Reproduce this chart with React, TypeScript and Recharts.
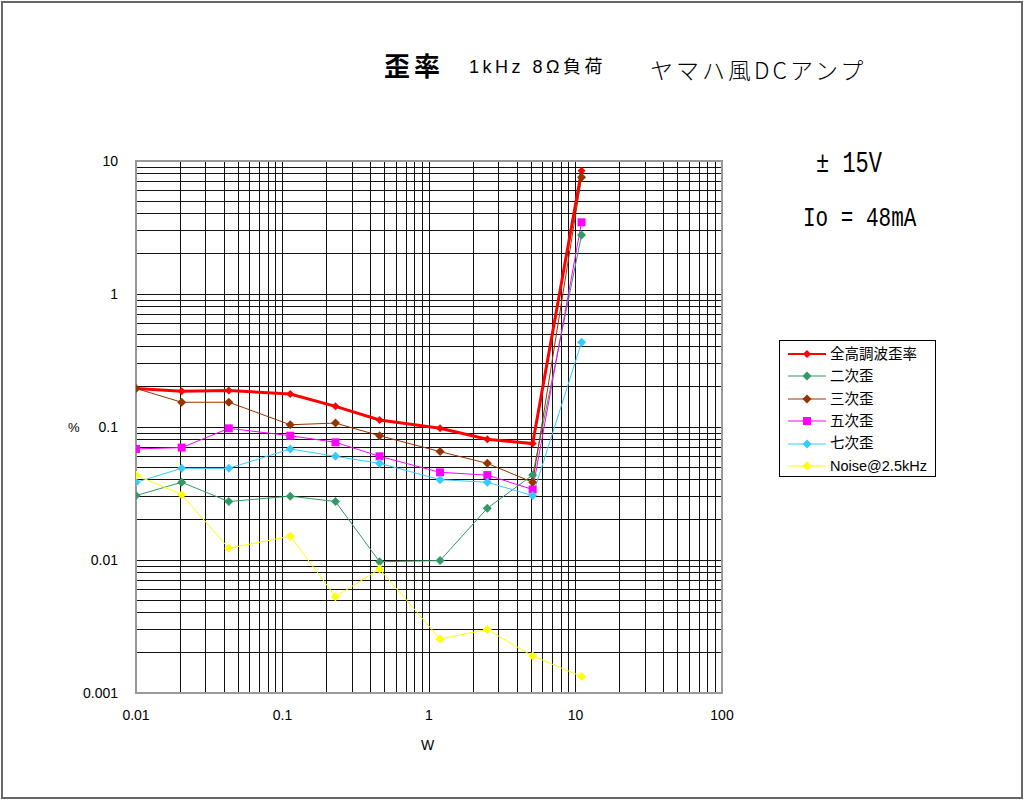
import React from 'react';
import { LineChart, Line, XAxis, YAxis, CartesianGrid, ReferenceArea } from 'recharts';

// 出力 (W)
const powerW = [0.01, 0.0205, 0.043, 0.113, 0.23, 0.46, 1.19, 2.5, 5.1, 11.0];

// 歪率 (%)
const thd = [0.195, 0.186, 0.188, 0.177, 0.143, 0.113, 0.098, 0.081, 0.075, 8.45];
const h2 = [0.0305, 0.0384, 0.0275, 0.0302, 0.0275, 0.0097, 0.0099, 0.0245, 0.0435, 2.78];
const h3 = [0.195, 0.1535, 0.1535, 0.104, 0.107, 0.086, 0.0653, 0.0533, 0.0384, 7.54];
const h5 = [0.0684, 0.07, 0.0977, 0.086, 0.0767, 0.0602, 0.0456, 0.0435, 0.0339, 3.46];
const h7 = [0.0384, 0.0489, 0.0489, 0.0684, 0.0602, 0.0533, 0.0402, 0.0384, 0.0305, 0.433];
const noise = [0.0435, 0.031, 0.01225, 0.0151, 0.0053, 0.00855, 0.00255, 0.003, 0.0019, 0.00133];

const decadesX = [0.01, 0.1, 1, 10];
const decadesY = [0.001, 0.01, 0.1, 1];
const xLabels = [0.01, 0.1, 1, 10, 100];
const yLabels = [0.001, 0.01, 0.1, 1, 10];

// log grid: 1..9 in each decade
const logTicks = (decades: number[], last: number) => {
  const out: number[] = [];
  decades.forEach((d) => {
    for (let k = 1; k <= 9; k++) out.push(+(k * d).toPrecision(3));
  });
  out.push(last);
  return out;
};
const xTicks = logTicks(decadesX, 100);
const yTicks = logTicks(decadesY, 10);

const SERIES = [
  { key: 'thd', name: '全高調波歪率', values: thd, color: '#FF0000', width: 3, marker: 'diamond', size: 4 },
  { key: 'h2', name: '二次歪', values: h2, color: '#339966', width: 1, marker: 'diamond', size: 4.5 },
  { key: 'h3', name: '三次歪', values: h3, color: '#993300', width: 1, marker: 'diamond', size: 4.5 },
  { key: 'h5', name: '五次歪', values: h5, color: '#FF00FF', width: 1, marker: 'square', size: 4 },
  { key: 'h7', name: '七次歪', values: h7, color: '#33CCFF', width: 1, marker: 'diamond', size: 4.5 },
  { key: 'noise', name: 'Noise@2.5kHz', values: noise, color: '#FFFF00', width: 1, marker: 'diamond', size: 4.5 },
];

const data = powerW.map((w, i) => {
  const row: Record<string, number> = { w };
  SERIES.forEach((s) => {
    row[s.key] = s.values[i];
  });
  return row;
});

const Marker = ({ cx, cy, color, shape, size }: any) =>
  shape === 'square' ? (
    <rect x={cx - size} y={cy - size} width={size * 2} height={size * 2} fill={color} />
  ) : (
    <polygon
      points={`${cx},${cy - size} ${cx + size},${cy} ${cx},${cy + size} ${cx - size},${cy}`}
      fill={color}
    />
  );

const fmt = (v: number) => (xLabels.includes(v) || yLabels.includes(v) ? String(v) : '');

const TICK = { fill: '#000', fontSize: 14, fontFamily: 'Liberation Sans, Arial, sans-serif' };

export default function App() {
  return (
    <div
      style={{
        position: 'absolute',
        left: 0,
        top: 0,
        width: 1024,
        height: 801,
        background: '#fff',
        fontFamily: '"Liberation Sans", "Noto Sans CJK JP", sans-serif',
      }}
    >
      <div
        style={{
          position: 'absolute',
          left: 1,
          top: 1,
          width: 1018,
          height: 794,
          border: '2px solid #666',
        }}
      />
      <LineChart
        width={1024}
        height={801}
        data={data}
        margin={{ top: 161, right: 302, bottom: 78, left: 76 }}
        style={{ position: 'absolute', left: 0, top: 0 }}
      >
        <CartesianGrid stroke="#111" strokeWidth={1} shapeRendering="crispEdges" />
        <XAxis
          dataKey="w"
          type="number"
          scale="log"
          domain={[0.01, 100]}
          allowDataOverflow
          ticks={xTicks}
          interval={0}
          tickFormatter={fmt}
          tick={TICK}
          tickLine={false}
          axisLine={false}
          tickSize={0}
          tickMargin={17}
          height={30}
        />
        <YAxis
          type="number"
          scale="log"
          domain={[0.001, 10]}
          allowDataOverflow
          ticks={yTicks}
          interval={0}
          tickFormatter={fmt}
          tick={TICK}
          tickLine={false}
          axisLine={false}
          tickSize={0}
          tickMargin={18}
          width={60}
        />
        <ReferenceArea
          x1={0.01}
          x2={100}
          y1={0.001}
          y2={10}
          fill="none"
          stroke="#999"
          strokeWidth={1.5}
          shapeRendering="crispEdges"
        />
        {SERIES.map((s) => (
          <Line
            key={s.key}
            dataKey={s.key}
            stroke={s.color}
            strokeWidth={s.width}
            isAnimationActive={false}
            dot={(p: any) => (
              <Marker key={`${s.key}-${p.index}`} cx={p.cx} cy={p.cy} color={s.color} shape={s.marker} size={s.size} />
            )}
            activeDot={false}
          />
        ))}
      </LineChart>

      {/* titles */}
      <div style={{ position: 'absolute', left: 384, top: 52, fontSize: 26, fontWeight: 700, lineHeight: 1, letterSpacing: 4, fontFamily: '"Noto Sans CJK JP", sans-serif' }}>
        歪率
      </div>
      <div style={{ position: 'absolute', left: 469, top: 58, fontSize: 18, lineHeight: 1, letterSpacing: 3.5 }}>1kHz 8Ω負荷</div>
      <div style={{ position: 'absolute', left: 650, top: 58, fontSize: 23, lineHeight: 1, letterSpacing: 3, fontWeight: 300, fontFamily: '"Noto Sans CJK JP", sans-serif' }}>
        ヤマハ風DCアンプ
      </div>
      <div style={{ position: 'absolute', left: 816, top: 155, fontSize: 22, lineHeight: 1, fontFamily: '"Liberation Mono", monospace', transform: 'scaleY(1.3)' }}>
        ±&nbsp;15V
      </div>
      <div style={{ position: 'absolute', left: 803, top: 208, fontSize: 21, lineHeight: 1, fontFamily: '"Liberation Mono", monospace', transform: 'scaleY(1.3)', whiteSpace: 'pre' }}>
        Io = 48mA
      </div>
      <div style={{ position: 'absolute', left: 68, top: 421, fontSize: 13, lineHeight: 1 }}>%</div>
      <div style={{ position: 'absolute', left: 421, top: 738, fontSize: 14, lineHeight: 1 }}>W</div>

      {/* legend */}
      <div
        style={{
          position: 'absolute',
          left: 779,
          top: 340,
          width: 155,
          height: 135,
          border: '1px solid #000',
          background: '#fff',
        }}
      >
        {SERIES.map((s, i) => (
          <div key={s.key} style={{ position: 'absolute', left: 0, top: 2 + i * 22.4, height: 22, display: 'flex', alignItems: 'center' }}>
            <svg width={50} height={22} style={{ display: 'block' }}>
              <line x1={8} x2={46} y1={11} y2={11} stroke={s.color} strokeWidth={s.width === 3 ? 2 : 1} />
              <Marker cx={27} cy={11} color={s.color} shape={s.marker} size={s.size} />
            </svg>
            <span style={{ fontSize: 14.5, lineHeight: 1, whiteSpace: 'nowrap' }}>{s.name}</span>
          </div>
        ))}
      </div>
    </div>
  );
}
